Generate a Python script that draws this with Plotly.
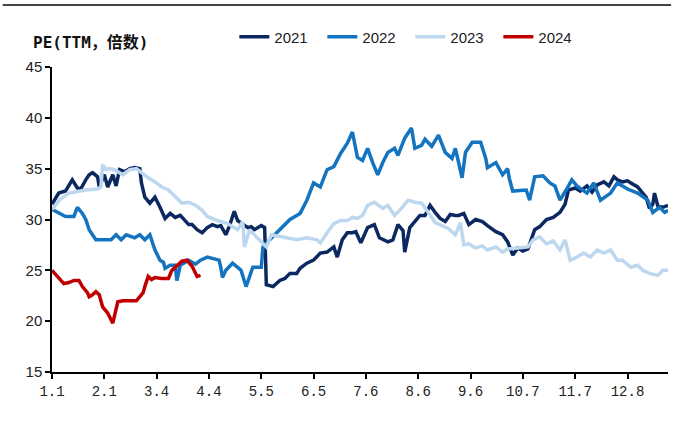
import plotly.graph_objects as go

# Day-of-year positions (0 = Jan 1) and PE (TTM) values for each year
days_2021 = [0, 4, 8, 11, 12, 15, 17, 20, 22, 24, 27, 28, 31, 33, 36, 38, 40, 43, 46, 49, 52, 53, 55, 58,
             61, 64, 67, 70, 73, 76, 79, 81, 83, 86, 89, 92, 95, 98, 100, 103, 105, 108, 110, 113, 116,
             118, 120, 124, 126, 127, 131, 135, 138, 141, 145, 147, 151, 155, 159, 163, 167, 169, 172,
             175, 178, 180, 183, 187, 191, 194, 199, 202, 205, 208, 209, 212, 215, 218, 221, 224, 227,
             230, 233, 236, 239, 241, 244, 247, 251, 255, 258, 263, 267, 270, 273, 276, 279, 282, 286,
             289, 293, 297, 301, 304, 306, 310, 313, 317, 320, 323, 327, 330, 333, 335, 338, 341, 343,
             347, 350, 352, 354, 356, 357, 359, 362, 365]
pe_2021 = [31.5, 32.6, 32.8, 33.6, 33.9, 33.1, 33.0, 33.9, 34.4, 34.6, 34.2, 33.2, 34.4, 33.2, 34.4, 33.3,
           34.9, 34.7, 35.0, 35.1, 35.0, 33.6, 32.2, 31.6, 32.2, 31.2, 30.1, 30.6, 30.2, 30.4, 29.8, 29.5,
           29.5, 29.0, 28.7, 29.2, 29.5, 29.3, 29.4, 28.5, 29.3, 30.8, 29.9, 29.5, 29.2, 29.3, 29.0, 29.4,
           29.2, 23.6, 23.4, 24.0, 24.2, 24.7, 24.7, 25.2, 25.7, 26.0, 26.7, 26.8, 27.3, 26.3, 28.0, 28.7,
           28.7, 28.8, 27.7, 29.2, 29.5, 28.2, 27.8, 28.0, 29.5, 28.9, 26.8, 29.2, 29.8, 30.4, 30.4, 31.4,
           30.7, 30.1, 29.8, 30.5, 30.4, 30.4, 30.6, 29.5, 30.0, 29.8, 29.4, 28.8, 28.5, 27.8, 26.5, 27.2,
           26.9, 27.1, 29.0, 29.3, 30.0, 30.2, 30.7, 31.5, 32.9, 33.1, 32.8, 33.3, 32.7, 33.4, 33.7, 33.3,
           34.2, 33.9, 33.7, 33.8, 33.6, 33.2, 32.6, 32.2, 31.1, 31.5, 32.6, 31.3, 31.2, 31.4]

days_2022 = [0, 4, 8, 13, 15, 18, 20, 22, 26, 35, 38, 41, 44, 49, 52, 55, 58, 61, 64, 66, 67, 70, 73, 74,
             76, 79, 81, 85, 88, 92, 95, 99, 100, 101, 103, 107, 110, 112, 115, 117, 119, 124, 125, 129,
             135, 141, 147, 151, 155, 159, 163, 167, 171, 175, 178, 181, 184, 187, 190, 193, 196, 199,
             203, 205, 209, 213, 215, 219, 221, 225, 229, 233, 237, 239, 243, 245, 249, 254, 257, 258,
             263, 267, 270, 271, 273, 278, 281, 283, 286, 291, 295, 298, 301, 305, 308, 311, 317, 321,
             325, 331, 335, 341, 347, 353, 356, 360, 363, 365]
pe_2022 = [31.0, 30.6, 30.3, 30.3, 31.2, 30.6, 30.0, 29.0, 28.0, 28.0, 28.5, 28.0, 28.5, 28.2, 28.5, 28.0,
           28.5, 27.0, 26.0, 25.8, 25.2, 25.5, 25.5, 24.0, 25.5, 25.8, 26.0, 25.6, 26.0, 26.3, 26.2, 26.0,
           25.3, 24.3, 25.0, 25.7, 25.3, 25.0, 23.4, 24.5, 25.3, 25.3, 27.3, 28.0, 29.0, 30.0, 30.6, 31.9,
           33.6, 33.2, 34.9, 35.2, 36.5, 37.5, 38.6, 36.1, 35.8, 37.0, 35.6, 34.4, 35.6, 36.6, 37.0, 36.3,
           38.0, 39.0, 37.0, 37.3, 37.9, 37.2, 38.3, 36.6, 36.0, 37.0, 34.1, 36.6, 37.6, 37.6, 36.0, 35.1,
           35.6, 34.4, 35.0, 34.0, 32.8, 32.9, 32.9, 31.9, 34.2, 34.3, 33.6, 33.3, 31.9, 33.0, 33.9, 33.3,
           32.6, 33.6, 31.9, 32.6, 33.6, 33.0, 32.6, 31.9, 30.7, 31.2, 30.7, 30.9]

days_2023 = [0, 5, 10, 20, 27, 29, 30, 32, 34, 37, 42, 46, 50, 53, 57, 61, 65, 69, 73, 77, 81, 85, 89, 92,
             98, 104, 110, 113, 114, 117, 121, 125, 127, 130, 135, 139, 145, 151, 157, 159, 163, 167,
             171, 175, 178, 181, 184, 187, 191, 196, 199, 203, 207, 211, 215, 219, 223, 227, 231, 235,
             239, 242, 244, 247, 251, 255, 258, 263, 267, 270, 276, 282, 285, 289, 293, 297, 301, 304,
             307, 311, 315, 319, 323, 327, 331, 335, 338, 343, 347, 350, 354, 359, 362, 365]
pe_2023 = [31.0, 32.0, 32.6, 32.9, 33.0, 33.2, 35.4, 34.9, 35.0, 34.9, 34.4, 34.9, 35.0, 34.6, 34.1, 33.7,
           33.2, 32.9, 32.2, 31.6, 31.7, 31.4, 30.9, 30.3, 29.9, 29.6, 29.0, 29.8, 27.3, 29.0, 28.3, 27.7,
           27.3, 28.5, 28.3, 28.2, 28.0, 28.2, 28.0, 27.7, 28.7, 29.6, 29.9, 29.9, 30.2, 30.1, 30.4, 31.4,
           31.7, 31.1, 31.4, 30.4, 31.1, 31.9, 31.7, 31.6, 30.7, 29.7, 29.4, 29.1, 28.5, 29.7, 27.5, 27.6,
           27.2, 27.4, 27.0, 27.3, 26.8, 27.1, 27.2, 27.3, 28.0, 28.3, 27.6, 27.9, 27.0, 28.0, 26.0, 26.3,
           26.7, 26.3, 27.0, 26.7, 27.0, 26.0, 26.0, 25.3, 25.5, 25.0, 24.7, 24.5, 25.0, 25.0]

days_2024 = [0, 4, 7, 10, 13, 16, 18, 21, 22, 24, 26, 28, 30, 33, 34, 36, 39, 42, 50, 54, 55, 57, 59, 61,
             65, 69, 71, 74, 77, 80, 83, 86, 88]
pe_2024 = [25.0, 24.2, 23.7, 23.8, 24.0, 24.0, 23.4, 22.8, 22.4, 22.6, 22.9, 22.6, 21.4, 20.8, 20.4, 19.8,
           21.9, 22.0, 22.0, 22.8, 23.4, 24.4, 24.1, 24.3, 24.2, 24.2, 25.0, 25.5, 25.9, 26.0, 25.4, 24.4,
           24.5]

years = ["2021", "2022", "2023", "2024"]
colors = ["#0b2860", "#1474c0", "#bdd7ee", "#c00000"]
series_days = [days_2021, days_2022, days_2023, days_2024]
series_pe = [pe_2021, pe_2022, pe_2023, pe_2024]

tick_days = [0, 31, 62, 93, 124, 155, 186, 217, 248, 279, 310, 341]
tick_labels = ["1.1", "2.1", "3.4", "4.4", "5.5", "6.5", "7.6", "8.6", "9.6", "10.7", "11.7", "12.8"]

fig = go.Figure()
for name, col, xs, ys in zip(years, colors, series_days, series_pe):
    fig.add_trace(go.Scatter(x=xs, y=ys, mode="lines", name=name,
                             line=dict(color=col, width=3.5)))

fig.update_layout(
    width=673, height=421,
    margin=dict(l=52, r=5, t=67, b=49),
    plot_bgcolor="white", paper_bgcolor="white",
    showlegend=True,
    legend=dict(orientation="h", x=0.296, xanchor="left", y=1.098, yanchor="middle",
                font=dict(family="Liberation Sans, Arial", size=15, color="#222"),
                entrywidth=43, entrywidthmode="pixels",
                itemwidth=30, tracegroupgap=0, bgcolor="rgba(0,0,0,0)"),
    font=dict(family="Liberation Sans, Arial", size=14, color="#222"),
)

fig.update_xaxes(range=[0, 365], tickmode="array", tickvals=tick_days, ticktext=tick_labels,
                 showgrid=False, zeroline=False, showline=True, linecolor="black", linewidth=1.5,
                 ticks="outside", ticklen=5, tickcolor="black", tickwidth=1.5,
                 tickfont=dict(family="Liberation Mono, monospace", size=14, color="#222"))
fig.update_yaxes(range=[15, 45], tickmode="array", tickvals=[15, 20, 25, 30, 35, 40, 45],
                 showgrid=False, zeroline=False, showline=True, linecolor="black", linewidth=1.5,
                 ticks="outside", ticklen=5, tickcolor="black", tickwidth=1.5,
                 tickfont=dict(family="Liberation Sans, Arial", size=15, color="#222"))

# Axis caption above the value axis
fig.add_annotation(text="<b>PE(TTM，倍数)</b>", xref="paper", yref="paper", x=-0.034, y=1.079,
                   xanchor="left", yanchor="middle", showarrow=False,
                   font=dict(family="DejaVu Sans Mono, Noto Sans CJK SC", size=16, color="#111"))

# Rule across the top of the figure
fig.add_shape(type="line", xref="paper", yref="paper", x0=-0.08, x1=1.005, y0=1.203, y1=1.203,
              line=dict(color="#444", width=2))

fig.write_html("out.html")
